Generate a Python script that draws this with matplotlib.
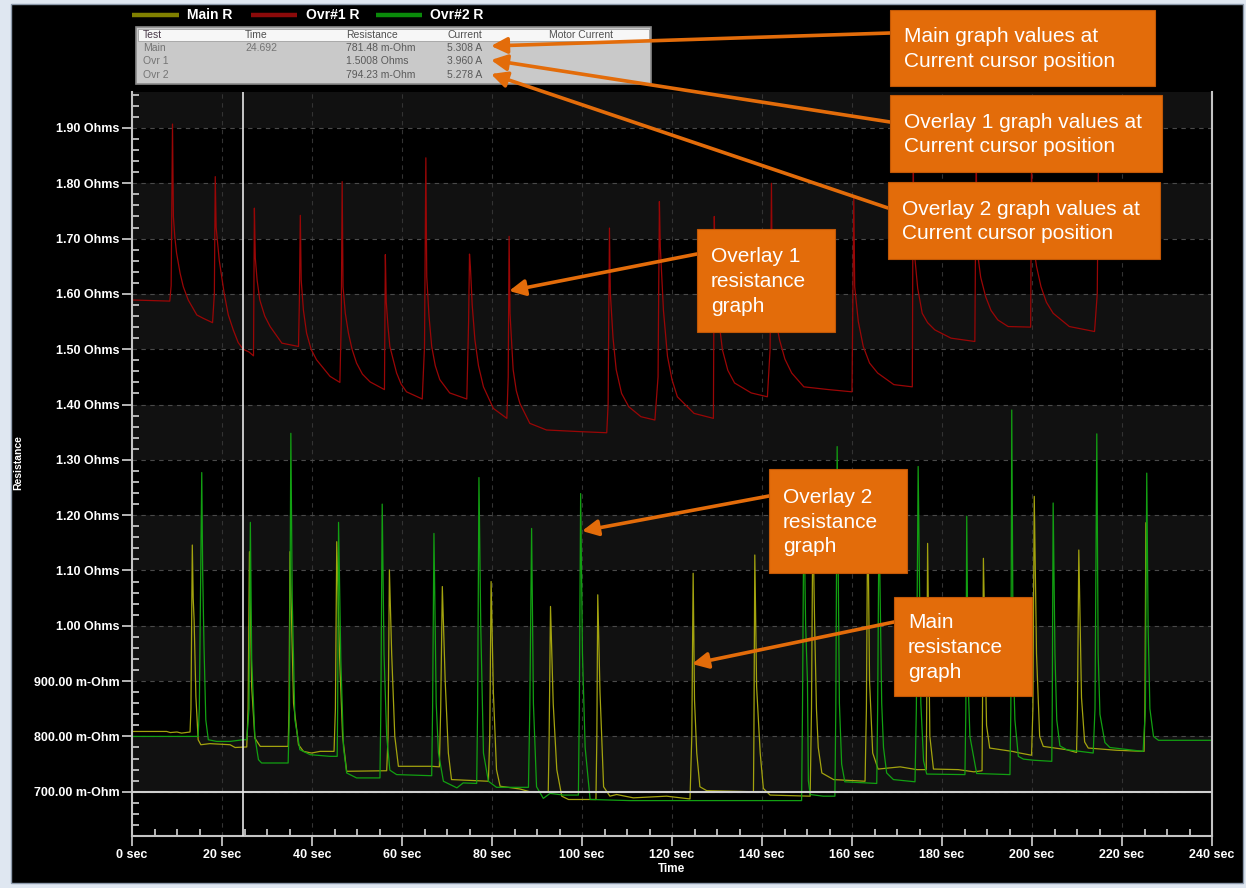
import matplotlib
matplotlib.use("Agg")
import matplotlib.pyplot as plt
from matplotlib.patches import Rectangle, FancyArrowPatch
from matplotlib.lines import Line2D
from matplotlib.ticker import MultipleLocator

plt.rcParams['font.family'] = ['Liberation Sans', 'DejaVu Sans']

W, H = 1246, 888

# ---- data (time in sec, resistance in Ohm) ----
main_pts = [
    (0, 0.809), (7.7, 0.809), (8.5, 0.807), (10.0, 0.808), (11.0, 0.806), (12.9, 0.808),
    (13.1, 0.85), (13.4, 1.146), (13.6, 1.05), (13.8, 1.011), (14.2, 0.872), (14.7, 0.794),
    (15.3, 0.785), (17.3, 0.787), (19.6, 0.786), (21.8, 0.785), (22.9, 0.780), (25.5, 0.781),
    (25.8, 0.85), (26.1, 1.134), (26.6, 0.890), (27.3, 0.797), (28.5, 0.782), (34.7, 0.782),
    (34.9, 0.85), (35.1, 1.134), (35.9, 0.860), (37.0, 0.785), (38.1, 0.773), (39.9, 0.770),
    (41.8, 0.773), (44.9, 0.773),
    (45.2, 0.85), (45.5, 1.152), (46.1, 0.951), (46.8, 0.800), (47.7, 0.737), (56.6, 0.738),
    (56.9, 0.80), (57.2, 1.101), (57.7, 0.951), (58.4, 0.800), (59.2, 0.746), (66.6, 0.746),
    (68.3, 0.745), (68.6, 0.85), (68.96, 1.071), (69.6, 0.90), (70.3, 0.770), (71.0, 0.722),
    (79.2, 0.719),
    (79.5, 0.80), (79.8, 1.080), (80.3, 0.88), (81.0, 0.740), (81.8, 0.710), (86.2, 0.705),
    (88.4, 0.700), (92.5, 0.700),
    (92.7, 0.80), (93.0, 1.035), (93.6, 0.86), (94.4, 0.74), (95.5, 0.692), (97.0, 0.686),
    (103.1, 0.686),
    (103.3, 0.80), (103.5, 1.056), (104.0, 0.88), (104.8, 0.709), (106.2, 0.692), (107.7, 0.695),
    (111.4, 0.689), (118.8, 0.692), (124.0, 0.687),
    (124.4, 0.80), (124.7, 1.095), (125.0, 0.866), (125.5, 0.770), (126.2, 0.709), (127.7, 0.702),
    (138.1, 0.700),
    (138.2, 0.80), (138.4, 1.128), (138.8, 0.89), (139.6, 0.770), (140.3, 0.706), (141.8, 0.694),
    (150.7, 0.692),
    (151.0, 0.85), (151.3, 1.20), (151.7, 1.00), (152.1, 0.85), (152.5, 0.78), (153.3, 0.734),
    (155.9, 0.722), (162.9, 0.719),
    (163.2, 0.85), (163.5, 1.22), (163.9, 0.90), (164.6, 0.77), (165.8, 0.741), (170.7, 0.745),
    (174.4, 0.740), (176.5, 0.740),
    (176.6, 0.85), (176.8, 1.149), (177.3, 0.80), (178.1, 0.741), (183.6, 0.740), (187.1, 0.736),
    (188.9, 0.738),
    (189.0, 0.85), (189.2, 1.122), (189.9, 0.82), (190.6, 0.779), (195.6, 0.773), (197.3, 0.770),
    (199.9, 0.766),
    (200.2, 0.85), (200.5, 1.234), (201.0, 0.95), (201.7, 0.80), (202.5, 0.782), (207.7, 0.776),
    (209.9, 0.771),
    (210.1, 0.85), (210.4, 1.137), (211.0, 0.87), (211.7, 0.79), (212.5, 0.779), (218.8, 0.775),
    (224.9, 0.773),
    (225.1, 0.85), (225.3, 1.186),
]

ovr1_pts = [
    (0, 1.589), (8.4, 1.587), (8.7, 1.615), (9.0, 1.907), (9.2, 1.740), (9.5, 1.704),
    (9.9, 1.674), (10.7, 1.637), (11.4, 1.613), (12.5, 1.589), (14.4, 1.562), (15.8, 1.556),
    (17.9, 1.548),
    (18.3, 1.60), (18.5, 1.812), (18.7, 1.72), (19.4, 1.66), (20.5, 1.60), (21.4, 1.562),
    (22.5, 1.535), (23.6, 1.512), (24.7, 1.500), (26.0, 1.495), (27.0, 1.488),
    (27.2, 1.755), (27.4, 1.665), (27.8, 1.625), (28.4, 1.589), (29.5, 1.560), (30.7, 1.541),
    (33.3, 1.511), (37.0, 1.505),
    (37.2, 1.59), (37.4, 1.742), (37.6, 1.625), (38.1, 1.570), (38.8, 1.529), (39.8, 1.500),
    (41.0, 1.481), (44.0, 1.451), (46.2, 1.440),
    (46.5, 1.55), (46.7, 1.803), (46.9, 1.613), (47.4, 1.565), (48.1, 1.529), (48.9, 1.500),
    (49.9, 1.475), (51.2, 1.455), (52.9, 1.441), (56.1, 1.427),
    (56.3, 1.671), (56.5, 1.586), (56.9, 1.540), (57.3, 1.505), (58.8, 1.457), (59.8, 1.437),
    (61.0, 1.423), (64.5, 1.410),
    (65.0, 1.505), (65.3, 1.846), (65.5, 1.631), (66.0, 1.560), (66.6, 1.505), (67.4, 1.470),
    (68.4, 1.445), (70.6, 1.421), (74.4, 1.410),
    (74.8, 1.55), (75.0, 1.672), (75.2, 1.649), (75.6, 1.580), (76.2, 1.517), (77.0, 1.470),
    (78.1, 1.432), (80.3, 1.393), (83.3, 1.375),
    (83.6, 1.45), (83.8, 1.704), (84.0, 1.565), (84.7, 1.463), (85.4, 1.425), (86.2, 1.402),
    (88.4, 1.366), (92.1, 1.354), (99.6, 1.351), (105.5, 1.349),
    (105.8, 1.40), (106.1, 1.719), (106.3, 1.601), (106.9, 1.520), (107.6, 1.463), (108.8, 1.420),
    (110.4, 1.396), (113.1, 1.378), (116.2, 1.372),
    (116.9, 1.45), (117.2, 1.767), (117.4, 1.685), (118.1, 1.570), (119.0, 1.487), (120.0, 1.445),
    (121.2, 1.414), (124.9, 1.384), (129.2, 1.375),
    (129.4, 1.740), (129.6, 1.649), (130.3, 1.560), (131.2, 1.499), (132.4, 1.462), (133.9, 1.439),
    (137.6, 1.421), (141.2, 1.414),
    (141.8, 1.50), (142.1, 1.800), (142.3, 1.601), (143.0, 1.555), (143.9, 1.517), (145.1, 1.482),
    (146.6, 1.457), (149.3, 1.432), (154.8, 1.427), (160.0, 1.423),
    (160.4, 1.773), (160.6, 1.613), (161.4, 1.550), (162.5, 1.505), (163.9, 1.475), (165.7, 1.457),
    (169.3, 1.436), (173.4, 1.432),
    (173.6, 1.86), (173.8, 1.68), (174.6, 1.610), (175.6, 1.565), (176.8, 1.548), (178.4, 1.535),
    (182.0, 1.520), (187.3, 1.514),
    (187.6, 1.87), (187.8, 1.68), (188.6, 1.630), (189.7, 1.595), (190.9, 1.570), (192.4, 1.553),
    (194.7, 1.541), (199.7, 1.540),
    (199.9, 1.85), (200.1, 1.70), (201.0, 1.650), (202.0, 1.613), (203.2, 1.585), (204.7, 1.565),
    (208.3, 1.541), (213.9, 1.532),
    (214.5, 1.60), (214.8, 1.88),
]

ovr2_pts = [
    (0, 0.800), (14.7, 0.800), (14.96, 0.85), (15.5, 1.277), (15.7, 1.10), (16.0, 0.963),
    (16.4, 0.830), (16.96, 0.794), (18.8, 0.791), (21.8, 0.791), (24.7, 0.794), (25.5, 0.794),
    (26.0, 0.85), (26.3, 1.187), (26.6, 0.94), (27.3, 0.80), (28.1, 0.758), (28.8, 0.752),
    (34.7, 0.752),
    (35.0, 0.85), (35.3, 1.348), (35.6, 1.05), (36.2, 0.83), (37.3, 0.776), (39.6, 0.767),
    (44.0, 0.764), (45.6, 0.764),
    (45.7, 0.85), (45.9, 1.187), (46.4, 0.94), (47.0, 0.78), (47.7, 0.734), (49.9, 0.725),
    (55.1, 0.725),
    (55.3, 0.85), (55.6, 1.220), (56.0, 0.95), (56.6, 0.80), (57.3, 0.739), (58.8, 0.731),
    (66.6, 0.729),
    (66.8, 0.85), (67.1, 1.167), (67.6, 0.86), (68.1, 0.77), (69.2, 0.719), (72.2, 0.707),
    (73.6, 0.716), (76.6, 0.715),
    (76.8, 0.85), (77.1, 1.268), (77.5, 1.00), (78.1, 0.77), (79.2, 0.719), (81.0, 0.708),
    (88.1, 0.708),
    (88.4, 0.85), (88.8, 1.176), (89.2, 0.86), (89.9, 0.709), (91.4, 0.688), (92.9, 0.697),
    (95.9, 0.694), (99.2, 0.694),
    (99.4, 0.85), (99.7, 1.239), (100.1, 0.95), (100.7, 0.78), (101.8, 0.686), (110.7, 0.684),
    (148.8, 0.684),
    (149.0, 0.85), (149.3, 1.22), (149.7, 1.00), (150.1, 0.90), (150.3, 0.72), (150.7, 0.695),
    (153.6, 0.692), (156.2, 0.692),
    (156.4, 0.85), (156.7, 1.324), (157.2, 0.86), (157.7, 0.75), (158.4, 0.718), (165.5, 0.715),
    (165.7, 0.85), (166.0, 1.20), (166.6, 0.86), (167.0, 0.78), (167.7, 0.734), (169.2, 0.722),
    (174.0, 0.718),
    (174.3, 0.85), (174.7, 1.288), (175.3, 0.86), (175.9, 0.756), (176.6, 0.732), (185.1, 0.731),
    (185.3, 0.85), (185.5, 1.198), (185.8, 0.90), (186.2, 0.80), (187.7, 0.733), (195.1, 0.731),
    (195.3, 0.85), (195.5, 1.39), (195.8, 0.95), (196.2, 0.83), (196.96, 0.764), (198.1, 0.759),
    (200.3, 0.757), (204.4, 0.755),
    (204.5, 0.85), (204.7, 1.222), (205.1, 0.95), (205.5, 0.83), (206.2, 0.783), (207.7, 0.776),
    (213.6, 0.770),
    (214.0, 0.85), (214.4, 1.347), (214.7, 0.95), (215.1, 0.84), (216.2, 0.789), (217.3, 0.780),
    (224.7, 0.773),
    (225.2, 0.85), (225.5, 1.276), (225.8, 1.00), (226.2, 0.85), (227.0, 0.80), (228.1, 0.793),
    (239.8, 0.793),
]

cursor_time = 24.692
reference_level = 0.70

y_ticks = [0.70, 0.80, 0.90, 1.00, 1.10, 1.20, 1.30, 1.40, 1.50, 1.60, 1.70, 1.80, 1.90]
y_tick_labels = ['700.00 m-Ohm', '800.00 m-Ohm', '900.00 m-Ohm', '1.00 Ohms', '1.10 Ohms',
                 '1.20 Ohms', '1.30 Ohms', '1.40 Ohms', '1.50 Ohms', '1.60 Ohms',
                 '1.70 Ohms', '1.80 Ohms', '1.90 Ohms']
x_ticks = [0, 20, 40, 60, 80, 100, 120, 140, 160, 180, 200, 220, 240]
x_tick_labels = ['0 sec', '20 sec', '40 sec', '60 sec', '80 sec', '100 sec', '120 sec',
                 '140 sec', '160 sec', '180 sec', '200 sec', '220 sec', '240 sec']

series_names = ['Main R', 'Ovr#1 R', 'Ovr#2 R']
table_header = ['Test', 'Time', 'Resistance', 'Current', 'Motor Current']
table_rows = [
    ['Main', '24.692', '781.48 m-Ohm', '5.308 A', ''],
    ['Ovr 1', '', '1.5008 Ohms', '3.960 A', ''],
    ['Ovr 2', '', '794.23 m-Ohm', '5.278 A', ''],
]
callout_texts = [
    'Main graph values at\nCurrent cursor position',
    'Overlay 1 graph values at\nCurrent cursor position',
    'Overlay 2 graph values at\nCurrent cursor position',
    'Overlay 1\nresistance\ngraph',
    'Overlay 2\nresistance\ngraph',
    'Main\nresistance\ngraph',
]

# ---- styling ----
MAIN_C = '#a3a30e'
OVR1_C = '#9a0606'
OVR2_C = '#12a012'
LEG_C = ['#808000', '#8b0a0a', '#0a8a0a']
ORANGE = '#E36C0A'
AXIS_C = '#c4c4c4'

fig = plt.figure(figsize=(W / 100, H / 100), dpi=100)
fig.patch.set_facecolor('#dfe7f1')

# window background
bg = fig.add_axes([0, 0, 1, 1], zorder=-5)
bg.set_xlim(0, W)
bg.set_ylim(H, 0)
bg.axis('off')
bg.add_patch(Rectangle((11, 4), 1232, 879, facecolor='black', edgecolor='#8d9aab', lw=1))


def px(x, y):
    return x / W, 1 - y / H


# main plot
ax = fig.add_axes([132 / W, 1 - 836 / H, (1212 - 132) / W, (836 - 92) / H])
ax.set_facecolor('black')
ax.set_xlim(0, 240)
ax.set_ylim(0.62, 1.965)

# alternating bands
band_edges = [0.70, 0.90, 1.10, 1.30, 1.50, 1.70, 1.90]
for b in band_edges:
    ax.axhspan(b, b + 0.10, color='#111111', lw=0, zorder=0)

ax.set_axisbelow(True)
ax.yaxis.grid(True, which='major', color='#4a4a4a', lw=0.8, linestyle=(0, (4, 4)))
ax.xaxis.grid(True, which='major', color='#333333', lw=0.8, linestyle=(0, (4, 4)))

for pts, c in [(ovr1_pts, OVR1_C), (main_pts, MAIN_C), (ovr2_pts, OVR2_C)]:
    ax.plot([p[0] for p in pts], [p[1] for p in pts], color=c, lw=0.9, zorder=2)

ax.axhline(reference_level, color='#cfcfcf', lw=1.5, zorder=4)
ax.axvline(cursor_time, color='#e6e6e6', lw=1.2, zorder=4)

ax.set_xticks(x_ticks)
ax.set_xticklabels(x_tick_labels, fontweight='bold')
ax.set_yticks(y_ticks)
ax.set_yticklabels(y_tick_labels, fontweight='bold')
ax.xaxis.set_minor_locator(MultipleLocator(5))
ax.yaxis.set_minor_locator(MultipleLocator(0.02))
ax.tick_params(which='major', direction='out', length=7, width=1.3, color=AXIS_C,
               labelcolor='white', labelsize=9, pad=2)
ax.tick_params(which='minor', direction='in', length=5, width=1.3, color=AXIS_C)

for side in ['left', 'bottom', 'right']:
    ax.spines[side].set_color(AXIS_C)
    ax.spines[side].set_linewidth(1.5)
ax.spines['top'].set_visible(False)

fig.text(*px(18, 463), 'Resistance', rotation=90, color='white', fontsize=7.5,
         fontweight='bold', ha='center', va='center')
fig.text(*px(671, 869), 'Time', color='white', fontsize=8.5, fontweight='bold',
         ha='center', va='center')

# overlay for legend, readout table and callouts
ov = fig.add_axes([0, 0, 1, 1], zorder=10)
ov.set_xlim(0, W)
ov.set_ylim(H, 0)
ov.axis('off')
ov.patch.set_alpha(0)

leg_x = [(132, 179, 187), (251, 297, 306), (376, 422, 430)]
for (x0, x1, tx), c, name in zip(leg_x, LEG_C, series_names):
    ov.add_line(Line2D([x0, x1], [15, 15], color=c, lw=3.2, solid_capstyle='butt'))
    ov.text(tx, 15, name, color='white', fontsize=10, fontweight='bold', va='center')

# readout table
ov.add_patch(Rectangle((136, 27), 515, 57, facecolor='#c9c9c9', edgecolor='#8a8a8a', lw=1.2))
ov.add_patch(Rectangle((138, 29), 511, 12, facecolor='#f7f7f7', edgecolor='#a0a0a0', lw=0.6))
col_x = [143, 245, 346, 447, 549]
for cx, h in zip(col_x, table_header):
    ov.text(cx, 35, h, fontsize=7.5, color='#4a3a4a' if h == 'Test' else '#505050', va='center')
for ry, row in zip([48, 61.5, 75], table_rows):
    for i, (cx, v) in enumerate(zip(col_x, row)):
        ov.text(cx, ry, v, fontsize=7.5, color='#5a5a5a' if i >= 2 else '#747474', va='center')

# callout boxes: (x, y, w, h), arrow start, arrow tip
boxes = [
    ((890, 10, 265, 76), (890, 33), (491, 46)),
    ((890, 95, 272, 77), (890, 122), (491, 60)),
    ((888, 182, 272, 77), (888, 208), (491, 74)),
    ((697, 229, 138, 103), (697, 254), (509, 291)),
    ((769, 469, 138, 104), (769, 496), (582, 531)),
    ((894, 597, 138, 99), (894, 622), (692, 664)),
]
for ((bx, by, bw, bh), start, tip), txt in zip(boxes, callout_texts):
    ov.add_patch(FancyArrowPatch(start, tip, arrowstyle='-|>', mutation_scale=24,
                                 color=ORANGE, lw=2.6, shrinkA=0, shrinkB=0, zorder=3))
    ov.add_patch(Rectangle((bx, by), bw, bh, facecolor=ORANGE, edgecolor='#c25806',
                           lw=0.8, zorder=4))
    ov.text(bx + 14, by + bh / 2 + 1, txt, color='white', fontsize=15, va='center',
            ha='left', linespacing=1.38, zorder=5)

fig.savefig('out.png', dpi=100, facecolor=fig.get_facecolor())
